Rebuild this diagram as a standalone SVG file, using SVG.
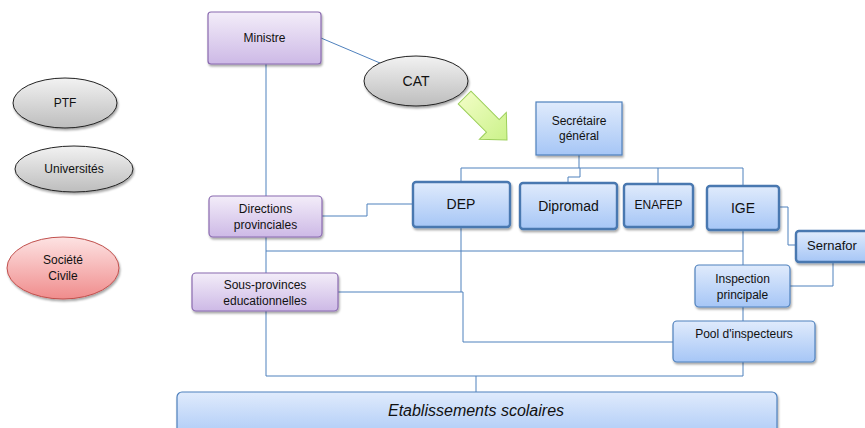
<svg xmlns="http://www.w3.org/2000/svg" width="865" height="428" viewBox="0 0 865 428">
<defs>
<linearGradient id="gBlue" x1="0" y1="0" x2="0" y2="1"><stop offset="0" stop-color="#e0ebfc"/><stop offset="1" stop-color="#a6c6f6"/></linearGradient>
<linearGradient id="gPurple" x1="0" y1="0" x2="0" y2="1"><stop offset="0" stop-color="#f3edf9"/><stop offset="1" stop-color="#cdb9e6"/></linearGradient>
<linearGradient id="gGray" x1="0" y1="0" x2="0" y2="1"><stop offset="0" stop-color="#f2f2f2"/><stop offset="1" stop-color="#bdbdbd"/></linearGradient>
<linearGradient id="gRed" x1="0" y1="0" x2="0" y2="1"><stop offset="0" stop-color="#fde3e3"/><stop offset="1" stop-color="#f08c8c"/></linearGradient>
<linearGradient id="gGreen" x1="0" y1="0" x2="1" y2="0"><stop offset="0" stop-color="#eefcc0"/><stop offset="1" stop-color="#cbf28a"/></linearGradient>
<filter id="sh" x="-10%" y="-10%" width="130%" height="140%"><feDropShadow dx="1" dy="2" stdDeviation="1.2" flood-color="#000" flood-opacity="0.35"/></filter>
</defs>
<style>
.t{font-family:"Liberation Sans",Arial,sans-serif;font-size:12px;fill:#111;text-anchor:middle}
.tb{font-family:"Liberation Sans",Arial,sans-serif;font-size:14px;fill:#111;text-anchor:middle}
.blue{fill:url(#gBlue);stroke:#4f81bd;stroke-width:1.2}
.bluek{fill:url(#gBlue);stroke:#4a78b0;stroke-width:2.4}
.purple{fill:url(#gPurple);stroke:#8a6bb0;stroke-width:1.2}
.gray{fill:url(#gGray);stroke:#222;stroke-width:1}
.red{fill:url(#gRed);stroke:#c0504d;stroke-width:1}
.c{fill:none;stroke:#4f81bd;stroke-width:1}
</style>
<g id="connectors">
<path class="c" d="M321,38 L380,63"/>
<path class="c" d="M266,64 V196 M266,237 V273 M266,251 H743"/>
<path class="c" d="M322,216 H367 V204 H413"/>
<path class="c" d="M579,155 V168 M461,168 H743 M461,168 V182 M580,168 V177 H568 V183 M658,168 V184 M743,168 V186"/>
<path class="c" d="M779,207 H788 V245 H796"/>
<path class="c" d="M743,230 V265 M790,286 H833 V261 M743,307 V321"/>
<path class="c" d="M461,227 V292 M338,292 H463 V342 H673"/>
<path class="c" d="M266,311 V376 H743 V362 M476,376 V392"/>
</g>
<g id="arrow" transform="translate(507,140) rotate(45)">
<polygon points="-60,-9 -20,-9 -20,-19 0,0 -20,19 -20,9 -60,9" fill="url(#gGreen)" stroke="#9ccf5a" stroke-width="1"/>
</g>
<g id="ministre"><rect class="purple" x="208" y="12" width="113" height="52" rx="3" filter="url(#sh)"/><text class="t" x="264.5" y="42">Ministre</text></g>
<g id="cat"><ellipse class="gray" cx="416" cy="81" rx="52" ry="25" filter="url(#sh)"/><text class="tb" x="416" y="86">CAT</text></g>
<g id="ptf"><ellipse class="gray" cx="65" cy="103" rx="52" ry="25" filter="url(#sh)"/><text class="t" x="65" y="107">PTF</text></g>
<g id="universites"><ellipse class="gray" cx="74" cy="169" rx="59" ry="23" filter="url(#sh)"/><text class="t" x="74" y="173">Universités</text></g>
<g id="societe"><ellipse class="red" cx="63" cy="268" rx="56" ry="31" filter="url(#sh)"/><text class="t" x="63" y="264">Société</text><text class="t" x="63" y="280">Civile</text></g>
<g id="sg"><rect class="blue" x="536" y="102" width="86" height="53" filter="url(#sh)"/><text class="t" x="579" y="125">Secrétaire</text><text class="t" x="579" y="140">général</text></g>
<g id="dep"><rect class="bluek" x="413" y="182" width="97" height="45" rx="3" filter="url(#sh)"/><text class="tb" x="461" y="209">DEP</text></g>
<g id="dipromad"><rect class="bluek" x="520" y="183" width="97" height="46" rx="3" filter="url(#sh)"/><text class="tb" x="568.5" y="211">Dipromad</text></g>
<g id="enafep"><rect class="bluek" x="624" y="184" width="69" height="43" rx="3" filter="url(#sh)"/><text class="t" x="658.5" y="209">ENAFEP</text></g>
<g id="ige"><rect class="bluek" x="707" y="186" width="72" height="44" rx="3" filter="url(#sh)"/><text class="tb" x="743" y="213">IGE</text></g>
<g id="sernafor"><rect class="bluek" x="796" y="231" width="75" height="31" rx="3" filter="url(#sh)"/><text class="t" x="832" y="250" style="font-size:13px">Sernafor</text></g>
<g id="directions"><rect class="purple" x="209" y="196" width="113" height="41" rx="4" filter="url(#sh)"/><text class="t" x="265.5" y="213">Directions</text><text class="t" x="265.5" y="229">provinciales</text></g>
<g id="sousprov"><rect class="purple" x="192" y="273" width="146" height="38" rx="4" filter="url(#sh)"/><text class="t" x="265" y="289">Sous-provinces</text><text class="t" x="265" y="305">educationnelles</text></g>
<g id="inspection"><rect class="blue" x="695" y="265" width="95" height="42" rx="4" filter="url(#sh)"/><text class="t" x="742.5" y="283">Inspection</text><text class="t" x="742.5" y="299">principale</text></g>
<g id="pool"><rect class="blue" x="673" y="321" width="142" height="41" rx="4" filter="url(#sh)"/><text class="t" x="744" y="338">Pool d'inspecteurs</text></g>
<g id="etablissements"><rect class="blue" x="177" y="392" width="600" height="50" rx="5" filter="url(#sh)"/><text class="t" x="476" y="416" style="font-size:16px;font-style:italic">Etablissements scolaires</text></g>
</svg>
